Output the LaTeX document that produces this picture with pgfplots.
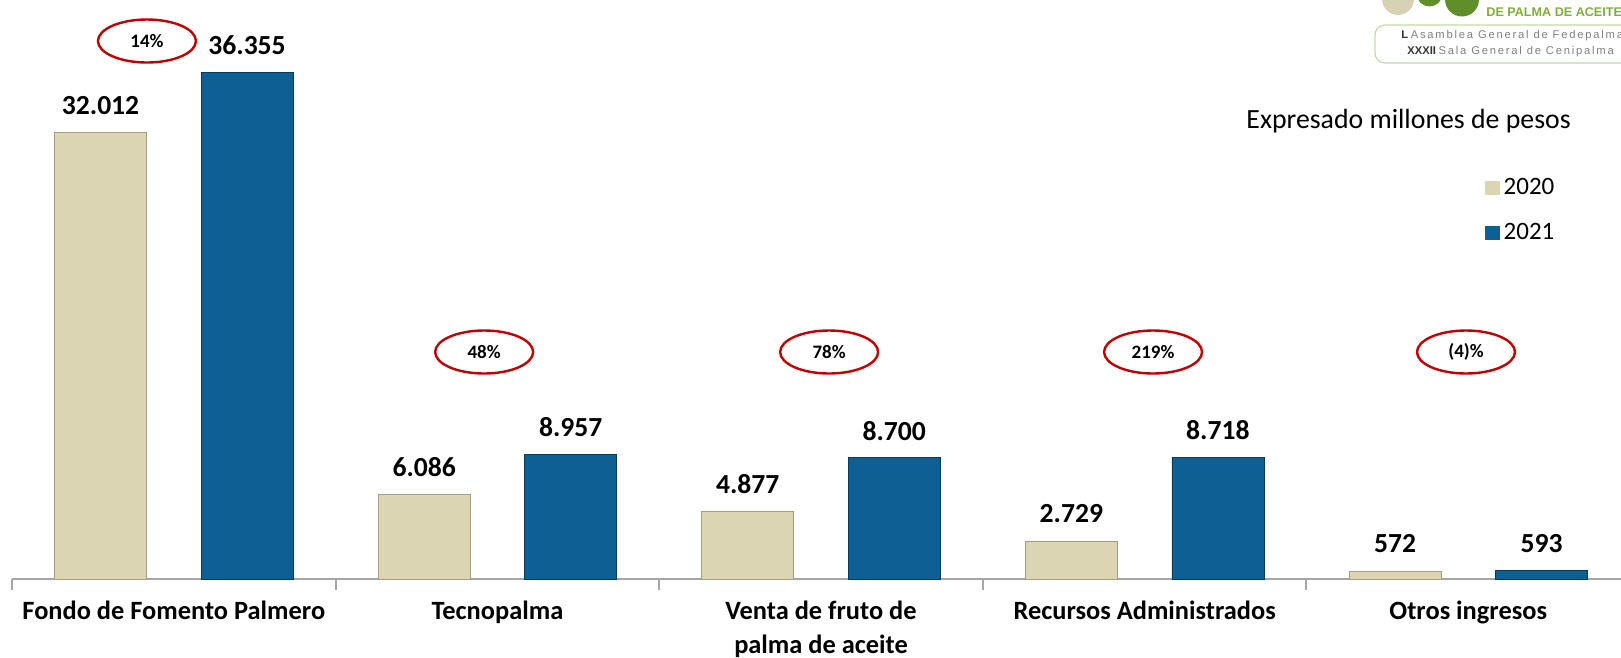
\documentclass[border=0pt]{standalone}
\usepackage{pgfplots}
\pgfplotsset{compat=1.18}
\usepackage{fontspec}
\setmainfont{Carlito}
\newfontfamily\logofont[LetterSpace=16]{Liberation Sans}
\newfontfamily\logobold{Liberation Sans}
\usetikzlibrary{shapes.geometric}

\definecolor{beige}{HTML}{DCD5B4}
\definecolor{beigeD}{HTML}{C2BA98}
\definecolor{azul}{HTML}{0E5F94}
\definecolor{azulD}{HTML}{0A4975}
\definecolor{rojo}{HTML}{C00000}
\definecolor{ejegris}{HTML}{A6A6A6}
\definecolor{verdeA}{HTML}{7EAD3C}
\definecolor{verdeB}{HTML}{5F8E2A}
\definecolor{cremalogo}{HTML}{D8D2B4}

\begin{document}
\begin{tikzpicture}
\begin{axis}[
    at={(0,0)}, anchor=south west,
    scale only axis, width=804.5pt, height=289.5pt,
    xmin=-0.5, xmax=4.472, ymin=0, ymax=41519,
    axis y line=none, axis x line*=bottom,
    axis line style={ejegris, line width=1pt},
    ybar=27.25pt, bar width=46pt,
    xtick={0,...,4},
    xticklabels={Fondo de Fomento Palmero, Tecnopalma, {Venta de fruto de\\palma de aceite}, Recursos Administrados, Otros ingresos},
    xticklabel style={align=center, anchor=north, yshift=-7.6pt,
      font=\bfseries\fontsize{13.2}{17}\selectfont},
    major tick length=0pt,
    minor xtick={-0.5,0.5,...,4.5},
    minor tick length=5.5pt, tick align=outside,
    minor tick style={ejegris, line width=1pt},
    point meta=explicit symbolic,
    nodes near coords,
    every node near coord/.append style={anchor=center, yshift=13.5pt,
      font=\bfseries\fontsize{13.8}{16}\selectfont, text=black},
    clip=false,
    legend style={at={(0.9154,0.70)}, anchor=north west, draw=none, fill=none,
      font=\fontsize{12.5}{15}\selectfont, row sep=9pt, inner sep=0pt},
    legend cell align=left,
]
\addplot[fill=beige, draw=beigeD!85!black, line width=0.4pt,
    legend image code/.code={\fill[beige] (0pt,-3.4pt) rectangle (6.8pt,3.4pt);}]
  coordinates {(0,32012)[32.012] (1,6086)[6.086] (2,4877)[4.877] (3,2729)[2.729] (4,572)[572]};
\addplot[fill=azul, draw=azulD!80!black, line width=0.4pt,
    legend image code/.code={\fill[azul] (0pt,-3.4pt) rectangle (6.8pt,3.4pt);}]
  coordinates {(0,36355)[36.355] (1,8957)[8.957] (2,8700)[8.700] (3,8718)[8.718] (4,593)[593]};
\legend{2020, 2021}

% growth ellipses
\tikzset{pct/.style={draw=rojo, line width=1.2pt, ellipse, minimum width=49pt,
  minimum height=21.5pt, inner sep=0pt, font=\bfseries\fontsize{9.5}{10}\selectfont}}
\node[pct] at (axis cs:-0.083,38578) {14\%};
\node[pct] at (axis cs:0.959,16277) {48\%};
\node[pct] at (axis cs:2.025,16277) {78\%};
\node[pct] at (axis cs:3.026,16277) {219\%};
\node[pct] at (axis cs:3.993,16277) {(4)\%};

\node[font=\fontsize{13.9}{16}\selectfont] at (rel axis cs:0.868,0.791) {Expresado millones de pesos};
\end{axis}

% logo (top right, cropped)
\fill[cremalogo] (693pt,290pt) circle (8pt);
\fill[verdeB] (708.75pt,292.75pt) circle (6.5pt);
\fill[verdeB] (725pt,289.75pt) circle (8.5pt);
\node[anchor=west, inner sep=0pt, text=verdeA, font=\logobold\bfseries\fontsize{6.3}{7}\selectfont] at (737pt,283.5pt) {DE PALMA DE ACEITE};
\draw[verdeA!45, line width=0.6pt, rounded corners=5pt] (681.5pt,277pt) rectangle (820pt,258pt);
\node[anchor=west, inner sep=0pt, text=gray, font=\fontsize{5.6}{6}\selectfont] at (694.5pt,271.5pt)
  {{\logobold\bfseries\color{black!80}L} {\logofont Asamblea General de Fedepalma}};
\node[anchor=west, inner sep=0pt, text=gray, font=\fontsize{5.6}{6}\selectfont] at (697.5pt,263.5pt)
  {{\logobold\bfseries\color{black!80}XXXII} {\logofont Sala General de Cenipalma}};

\pgfresetboundingbox
\path (-6pt,-39.5pt) rectangle (804.5pt,289.5pt);
\end{tikzpicture}
\end{document}
